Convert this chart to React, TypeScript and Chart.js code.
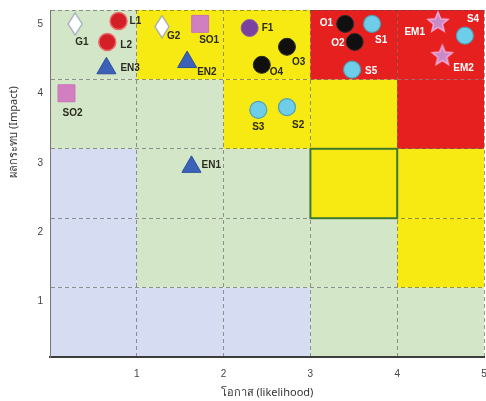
import React, { useEffect, useRef } from 'react';
import { Chart, registerables } from 'chart.js';
Chart.register(...registerables);

// ---- data ----
const xTickValues = [0, 1, 2, 3, 4, 5];
const yTickValues = [0, 1, 2, 3, 4, 5];
const xTitle = 'โอกาส (likelihood)';
const yTitle = 'ผลกระทบ (Impact)';

// risk level of each cell: rows impact 0-1 .. 4-5 (bottom to top), columns likelihood 0-1 .. 4-5
const riskLevels = [
  [0, 0, 0, 1, 1],
  [0, 1, 1, 1, 2],
  [0, 1, 1, 2, 2],
  [1, 1, 2, 2, 3],
  [1, 2, 2, 3, 3],
];
const highlightCell = [3, 2]; // [column, row]

const gNames = ['G1', 'G2'];
const gX = [0.29, 1.29];
const gY = [4.8, 4.76];

const lNames = ['L1', 'L2'];
const lX = [0.79, 0.66];
const lY = [4.84, 4.54];

const enNames = ['EN1', 'EN2', 'EN3'];
const enX = [1.63, 1.58, 0.65];
const enY = [2.74, 4.25, 4.16];

const soNames = ['SO1', 'SO2'];
const soX = [1.73, 0.19];
const soY = [4.8, 3.8];

const fNames = ['F1'];
const fX = [2.3];
const fY = [4.74];

const oNames = ['O1', 'O2', 'O3', 'O4'];
const oX = [3.4, 3.51, 2.73, 2.44];
const oY = [4.8, 4.54, 4.47, 4.21];

const sNames = ['S1', 'S2', 'S3', 'S4', 'S5'];
const sX = [3.71, 2.73, 2.4, 4.78, 3.48];
const sY = [4.8, 3.6, 3.56, 4.63, 4.14];

const emNames = ['EM1', 'EM2'];
const emX = [4.47, 4.52];
const emY = [4.83, 4.35];

// ---- styles ----
const levelColors = ['#d6dcf2', '#d3e7c8', '#f7e912', '#e6201e'];

const labelPlacement: Record<string, [number, number, CanvasTextAlign]> = {
  G1: [0, 18, 'left'],
  L1: [11, 0, 'left'],
  L2: [13, 3, 'left'],
  EN3: [14, 0, 'left'],
  G2: [5, 10, 'left'],
  SO1: [-1, 16, 'left'],
  EN2: [10, 10, 'left'],
  SO2: [-4, 20, 'left'],
  EN1: [10, -2, 'left'],
  F1: [12, 0, 'left'],
  O3: [5, 15, 'left'],
  O4: [8, 7, 'left'],
  S3: [0, 17, 'center'],
  S2: [5, 18, 'left'],
  O1: [-12, -1, 'right'],
  S1: [3, 16, 'left'],
  O2: [-10, 1, 'right'],
  S5: [13, 2, 'left'],
  EM1: [-13, 10, 'right'],
  S4: [2, -16, 'left'],
  EM2: [11, 13, 'left'],
};

function makeDiamond(): HTMLCanvasElement {
  const c = document.createElement('canvas');
  c.width = 16;
  c.height = 24;
  const g = c.getContext('2d')!;
  g.beginPath();
  g.moveTo(8, 1);
  g.lineTo(15, 12);
  g.lineTo(8, 23);
  g.lineTo(1, 12);
  g.closePath();
  g.fillStyle = '#ffffff';
  g.fill();
  g.strokeStyle = '#9aa3b8';
  g.lineWidth = 1.2;
  g.stroke();
  return c;
}

function makeStar(): HTMLCanvasElement {
  const c = document.createElement('canvas');
  c.width = 24;
  c.height = 24;
  const g = c.getContext('2d')!;
  g.beginPath();
  for (let i = 0; i < 10; i++) {
    const r = i % 2 === 0 ? 10.5 : 4.6;
    const a = -Math.PI / 2 + (i * Math.PI) / 5;
    const px = 12 + r * Math.cos(a);
    const py = 12.8 + r * Math.sin(a);
    if (i === 0) g.moveTo(px, py);
    else g.lineTo(px, py);
  }
  g.closePath();
  g.fillStyle = '#c98bc8';
  g.fill();
  g.strokeStyle = '#f3a9d9';
  g.lineWidth = 1.5;
  g.stroke();
  return c;
}

function pts(xs: number[], ys: number[]) {
  return xs.map((v, i) => ({ x: v, y: ys[i] }));
}

export default function App() {
  const ref = useRef<HTMLCanvasElement | null>(null);

  useEffect(() => {
    document.body.style.margin = '0';
    const canvas = ref.current!;
    const diamond = makeDiamond();
    const star = makeStar();

    const groups = [
      { names: gNames, xs: gX, ys: gY, style: diamond as any, r: 10, bg: '#fff', bc: '#9aa3b8', bw: 0 },
      { names: lNames, xs: lX, ys: lY, style: 'circle', r: 8.5, bg: '#d41f27', bc: '#ec6a6a', bw: 1.5 },
      { names: enNames, xs: enX, ys: enY, style: 'triangle', r: 11, bg: '#3b62b8', bc: '#2d4f9c', bw: 1 },
      { names: soNames, xs: soX, ys: soY, style: 'rect', r: 12, bg: '#d27fc2', bc: '#c774b7', bw: 1 },
      { names: fNames, xs: fX, ys: fY, style: 'circle', r: 8.5, bg: '#7a419f', bc: '#8d5cb0', bw: 1 },
      { names: oNames, xs: oX, ys: oY, style: 'circle', r: 8.5, bg: '#101010', bc: '#2a2a2a', bw: 1 },
      { names: sNames, xs: sX, ys: sY, style: 'circle', r: 8.5, bg: '#6ecde9', bc: '#4f9fb2', bw: 1.2 },
      { names: emNames, xs: emX, ys: emY, style: star as any, r: 11, bg: '#c98bc8', bc: '#f3a9d9', bw: 0 },
    ];

    const plugin = {
      id: 'riskMatrix',
      beforeDraw(chart: any) {
        const { ctx, scales } = chart;
        const x = scales.x;
        const y = scales.y;
        ctx.save();
        riskLevels.forEach((row, r) =>
          row.forEach((lvl, c) => {
            const x0 = x.getPixelForValue(c);
            const x1 = x.getPixelForValue(c + 1);
            const y0 = y.getPixelForValue(r + 1);
            const y1 = y.getPixelForValue(r);
            ctx.fillStyle = levelColors[lvl];
            ctx.fillRect(x0, y0, x1 - x0, y1 - y0);
          })
        );
        ctx.restore();
      },
      beforeDatasetsDraw(chart: any) {
        const { ctx, scales } = chart;
        const x = scales.x;
        const y = scales.y;
        const [c, r] = highlightCell;
        const x0 = x.getPixelForValue(c);
        const x1 = x.getPixelForValue(c + 1);
        const y0 = y.getPixelForValue(r + 1);
        const y1 = y.getPixelForValue(r);
        ctx.save();
        ctx.strokeStyle = '#3d7a2e';
        ctx.lineWidth = 2;
        ctx.strokeRect(x0, y0, x1 - x0, y1 - y0);
        ctx.restore();
      },
      afterDatasetsDraw(chart: any) {
        const { ctx, scales } = chart;
        const x = scales.x;
        const y = scales.y;
        ctx.save();
        ctx.font = 'bold 10px "Liberation Sans", Arial, sans-serif';
        ctx.textBaseline = 'middle';
        groups.forEach((g) => {
          g.names.forEach((name, i) => {
            const px = x.getPixelForValue(g.xs[i]);
            const py = y.getPixelForValue(g.ys[i]);
            const col = Math.min(4, Math.floor(g.xs[i]));
            const row = Math.min(4, Math.floor(g.ys[i]));
            const lvl = riskLevels[row][col];
            const [dx, dy, align] = labelPlacement[name] || [10, 0, 'left'];
            ctx.fillStyle = lvl === 3 ? '#ffffff' : '#2b2b20';
            ctx.textAlign = align;
            ctx.fillText(name, px + dx, py + dy);
          });
        });
        ctx.restore();
      },
      afterDraw(chart: any) {
        const { ctx } = chart;
        ctx.save();
        ctx.translate(14, 132);
        ctx.rotate(-Math.PI / 2);
        ctx.font = '11px "Noto Sans", "DejaVu Sans", sans-serif';
        ctx.fillStyle = '#333';
        ctx.textAlign = 'center';
        ctx.textBaseline = 'middle';
        ctx.fillText(yTitle, 0, 0);
        ctx.restore();
      },
    };

    const chart = new Chart(canvas, {
      type: 'scatter',
      data: {
        datasets: groups.map((g) => ({
          label: g.names.join(','),
          data: pts(g.xs, g.ys),
          pointStyle: g.style,
          pointRadius: g.r,
          pointHoverRadius: g.r,
          backgroundColor: g.bg,
          borderColor: g.bc,
          borderWidth: g.bw,
          showLine: false,
        })),
      },
      options: {
        responsive: false,
        animation: false,
        layout: { autoPadding: false, padding: { left: 0, top: 10, right: 2, bottom: 0 } },
        plugins: { legend: { display: false }, tooltip: { enabled: false } },
        scales: {
          x: {
            type: 'linear',
            min: xTickValues[0],
            max: xTickValues[xTickValues.length - 1],
            afterBuildTicks: (s: any) => {
              s.ticks = xTickValues.map((v) => ({ value: v }));
            },
            ticks: {
              callback: (v: any) => (v === 0 ? '' : String(v)),
              padding: 11,
              color: '#444',
              font: { size: 10, family: '"Liberation Sans", Arial, sans-serif' },
              maxRotation: 0,
            },
            grid: { color: 'rgba(70,70,70,0.55)', drawTicks: false, lineWidth: 1 },
            border: { display: true, color: '#3c3c3c', width: 2, dash: [4, 3] },
            title: {
              display: true,
              text: xTitle,
              color: '#333',
              font: { size: 11, family: '"Noto Sans", "DejaVu Sans", sans-serif' },
              padding: { top: 0, bottom: 2 },
            },
            afterFit: (s: any) => {
              s.height = 44;
              s.paddingLeft = 0;
              s.paddingRight = 0;
            },
          },
          y: {
            type: 'linear',
            min: yTickValues[0],
            max: yTickValues[yTickValues.length - 1],
            afterBuildTicks: (s: any) => {
              s.ticks = yTickValues.map((v) => ({ value: v }));
            },
            ticks: {
              callback: (v: any) => (v === 0 ? '' : String(v)),
              padding: 7,
              labelOffset: 14,
              color: '#444',
              font: { size: 10, family: '"Liberation Sans", Arial, sans-serif' },
            },
            grid: { color: 'rgba(70,70,70,0.55)', drawTicks: false, lineWidth: 1 },
            border: { display: true, color: '#777', width: 1, dash: [4, 3] },
            afterFit: (s: any) => {
              s.width = 50;
              s.paddingTop = 0;
              s.paddingBottom = 0;
            },
          },
        },
      },
      plugins: [plugin],
    });

    return () => chart.destroy();
  }, []);

  return (
    <div style={{ width: 486, height: 401, background: '#fff' }}>
      <canvas ref={ref} width={486} height={401} style={{ display: 'block' }} />
    </div>
  );
}
